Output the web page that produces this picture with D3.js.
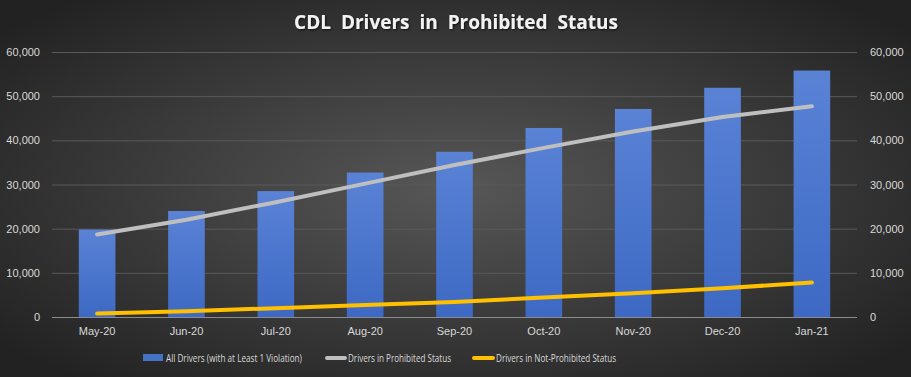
<!DOCTYPE html>
<html>
<head>
<meta charset="utf-8">
<script src="https://cdn.jsdelivr.net/npm/d3@7"></script>
<style>
  html, body { margin: 0; padding: 0; background: #2b2b2b; }
  svg { display: block; font-family: "Open Sans", "DejaVu Sans", sans-serif; }
</style>
</head>
<body>
<div id="chart"></div>
<script>
var months = ['May-20', 'Jun-20', 'Jul-20', 'Aug-20', 'Sep-20', 'Oct-20', 'Nov-20', 'Dec-20', 'Jan-21'];
var allDrivers = [19800, 24000, 28500, 32700, 37400, 42800, 47100, 51900, 55800];
var prohibited = [18700, 22000, 26000, 30200, 34400, 38300, 42000, 45300, 47700];
var notProhibited = [800, 1300, 2000, 2700, 3400, 4400, 5400, 6500, 7800];
var yTicks = [0, 10000, 20000, 30000, 40000, 50000, 60000];

var width = 911, height = 377;

var svg = d3.select('#chart').append('svg')
    .attr('width', width)
    .attr('height', height);

var defs = svg.append('defs');
var bg = defs.append('radialGradient')
    .attr('id', 'bg')
    .attr('cx', '50%').attr('cy', '50%').attr('r', '65%');
bg.append('stop').attr('offset', '0%').attr('stop-color', '#575757');
bg.append('stop').attr('offset', '100%').attr('stop-color', '#222222');

var barGrad = defs.append('linearGradient')
    .attr('id', 'barGrad')
    .attr('x1', 0).attr('y1', 0).attr('x2', 0).attr('y2', 1);
barGrad.append('stop').attr('offset', '0%').attr('stop-color', '#5a83d6');
barGrad.append('stop').attr('offset', '100%').attr('stop-color', '#3d69c4');

var shadow = defs.append('filter').attr('id', 'tshadow');
shadow.append('feDropShadow')
    .attr('dx', 1).attr('dy', 1).attr('stdDeviation', 1)
    .attr('flood-color', '#000').attr('flood-opacity', 0.7);

svg.append('rect')
    .attr('width', width).attr('height', height)
    .attr('fill', 'url(#bg)');

// title
svg.append('text')
    .attr('x', 456).attr('y', 29)
    .attr('text-anchor', 'middle')
    .attr('fill', '#f2f2f2')
    .attr('font-size', 19)
    .attr('font-weight', 'bold')
    .attr('word-spacing', 5)
    .attr('filter', 'url(#tshadow)')
    .text('CDL Drivers in Prohibited Status');

var x = d3.scaleBand()
    .domain(months)
    .range([52, 857])
    .paddingInner(0.59)
    .paddingOuter(0.3);

var y = d3.scaleLinear()
    .domain([0, 60000])
    .range([317, 52]);

var fmt = d3.format(',');

// gridlines
svg.append('g').selectAll('line')
    .data(yTicks.filter(function(d) { return d > 0; }))
    .enter().append('line')
    .attr('x1', 52).attr('x2', 857)
    .attr('y1', function(d) { return y(d) + 0.5; })
    .attr('y2', function(d) { return y(d) + 0.5; })
    .attr('stroke', '#5a5a5a')
    .attr('stroke-width', 1);

// left axis
var leftAxis = svg.append('g')
    .attr('transform', 'translate(44,0)')
    .call(d3.axisLeft(y).tickValues(yTicks).tickFormat(fmt).tickSize(0).tickPadding(4));
leftAxis.select('.domain').remove();

// right axis
var rightAxis = svg.append('g')
    .attr('transform', 'translate(866,0)')
    .call(d3.axisRight(y).tickValues(yTicks).tickFormat(fmt).tickSize(0).tickPadding(4));
rightAxis.select('.domain').remove();

svg.selectAll('.tick text')
    .attr('fill', '#d9d9d9')
    .attr('font-size', 11);

// bars
svg.append('g').selectAll('rect')
    .data(allDrivers)
    .enter().append('rect')
    .attr('x', function(d, i) { return x(months[i]); })
    .attr('width', x.bandwidth())
    .attr('y', function(d) { return y(d); })
    .attr('height', function(d) { return y(0) - y(d); })
    .attr('fill', 'url(#barGrad)');

// baseline
svg.append('line')
    .attr('x1', 52).attr('x2', 857)
    .attr('y1', y(0) + 0.5).attr('y2', y(0) + 0.5)
    .attr('stroke', '#8c8c8c')
    .attr('stroke-width', 1);

// x axis
var xAxis = svg.append('g')
    .attr('transform', 'translate(0,' + y(0) + ')')
    .call(d3.axisBottom(x).tickSize(0).tickPadding(10));
xAxis.select('.domain').remove();
xAxis.selectAll('text').attr('fill', '#d9d9d9').attr('font-size', 11);

// lines
var line = d3.line()
    .x(function(d, i) { return x(months[i]) + x.bandwidth() / 2; })
    .y(function(d) { return y(d); });

svg.append('path')
    .datum(prohibited)
    .attr('d', line)
    .attr('fill', 'none')
    .attr('stroke', '#bfbfbf')
    .attr('stroke-width', 4)
    .attr('stroke-linecap', 'round')
    .attr('stroke-linejoin', 'round');

svg.append('path')
    .datum(notProhibited)
    .attr('d', line)
    .attr('fill', 'none')
    .attr('stroke', '#ffc000')
    .attr('stroke-width', 4)
    .attr('stroke-linecap', 'round')
    .attr('stroke-linejoin', 'round');

// legend
var legend = svg.append('g').attr('font-size', 10).attr('fill', '#d9d9d9');
var ly = 358;

legend.append('rect')
    .attr('x', 143).attr('y', ly - 4).attr('width', 20).attr('height', 7)
    .attr('fill', '#4472c4');
legend.append('text')
    .attr('x', 166).attr('y', ly + 3.5)
    .attr('textLength', 136).attr('lengthAdjust', 'spacingAndGlyphs')
    .text('All Drivers (with at Least 1 Violation)');

legend.append('line')
    .attr('x1', 327).attr('x2', 345).attr('y1', ly).attr('y2', ly)
    .attr('stroke', '#bfbfbf').attr('stroke-width', 4).attr('stroke-linecap', 'round');
legend.append('text')
    .attr('x', 348).attr('y', ly + 3.5)
    .attr('textLength', 103).attr('lengthAdjust', 'spacingAndGlyphs')
    .text('Drivers in Prohibited Status');

legend.append('line')
    .attr('x1', 474).attr('x2', 493).attr('y1', ly).attr('y2', ly)
    .attr('stroke', '#ffc000').attr('stroke-width', 4).attr('stroke-linecap', 'round');
legend.append('text')
    .attr('x', 496).attr('y', ly + 3.5)
    .attr('textLength', 120).attr('lengthAdjust', 'spacingAndGlyphs')
    .text('Drivers in Not-Prohibited Status');
</script>
</body>
</html>
